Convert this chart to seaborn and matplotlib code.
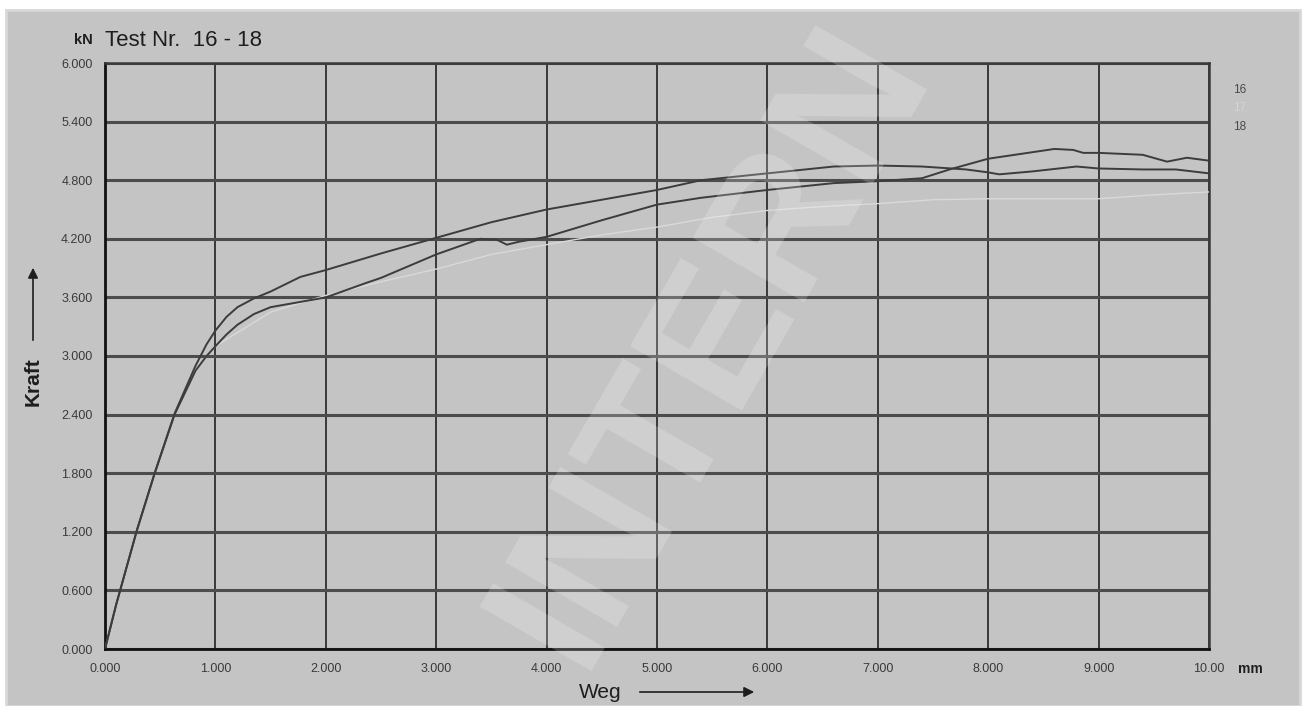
import matplotlib
matplotlib.use("Agg")
import matplotlib.pyplot as plt
import seaborn as sns
import pandas as pd
from matplotlib.patches import Rectangle, FancyArrowPatch

# Test curves: displacement (mm) vs force (kN)
x_16 = [0, 0.1, 0.29, 0.45, 0.63, 0.82, 0.92, 1.0, 1.1, 1.2, 1.35, 1.5, 1.77, 2.0, 2.5, 3.0,
        3.5, 4.0, 4.5, 5.0, 5.4, 6.0, 6.6, 7.0, 7.4, 7.8, 8.0, 8.1, 8.4, 8.8, 9.0, 9.4, 9.7, 10.0]
f_16 = [0, 0.45, 1.22, 1.80, 2.41, 2.90, 3.12, 3.26, 3.40, 3.50, 3.59, 3.66, 3.81, 3.88, 4.05, 4.21,
        4.37, 4.50, 4.60, 4.70, 4.80, 4.87, 4.94, 4.95, 4.94, 4.91, 4.88, 4.86, 4.89, 4.94, 4.92,
        4.91, 4.91, 4.87]

x_17 = [0, 0.1, 0.29, 0.45, 0.63, 0.82, 0.92, 1.0, 1.5, 2.0, 2.5, 3.0, 3.5, 4.0, 4.5, 5.0,
        5.5, 6.0, 6.5, 7.0, 7.5, 8.0, 8.5, 9.0, 9.5, 10.0]
f_17 = [0, 0.45, 1.22, 1.80, 2.41, 2.85, 3.0, 3.10, 3.45, 3.62, 3.76, 3.89, 4.04, 4.14, 4.24, 4.32,
        4.42, 4.49, 4.53, 4.56, 4.60, 4.61, 4.61, 4.61, 4.65, 4.68]

x_18 = [0, 0.1, 0.29, 0.45, 0.63, 0.82, 0.92, 1.0, 1.1, 1.2, 1.35, 1.5, 1.7, 2.0, 2.37, 2.5,
        3.0, 3.4, 3.55, 3.64, 3.75, 4.0, 4.5, 5.0, 5.4, 6.0, 6.6, 7.0, 7.4, 7.65, 8.0, 8.3, 8.6,
        8.77, 8.86, 9.0, 9.4, 9.62, 9.8, 10.0]
f_18 = [0, 0.45, 1.22, 1.80, 2.40, 2.85, 3.00, 3.10, 3.22, 3.32, 3.43, 3.50, 3.54, 3.60, 3.75, 3.80,
        4.04, 4.20, 4.19, 4.14, 4.17, 4.22, 4.39, 4.55, 4.62, 4.70, 4.77, 4.79, 4.82, 4.91, 5.02,
        5.07, 5.12, 5.11, 5.08, 5.08, 5.06, 4.99, 5.03, 5.00]

series_names = ["16", "17", "18"]
x_ticks = [0, 1, 2, 3, 4, 5, 6, 7, 8, 9, 10]
x_tick_labels = ["0.000", "1.000", "2.000", "3.000", "4.000", "5.000",
                 "6.000", "7.000", "8.000", "9.000", "10.00"]
y_ticks = [0, 0.6, 1.2, 1.8, 2.4, 3.0, 3.6, 4.2, 4.8, 5.4, 6.0]
y_tick_labels = ["0.000", "0.600", "1.200", "1.800", "2.400", "3.000",
                 "3.600", "4.200", "4.800", "5.400", "6.000"]

df = pd.concat([
    pd.DataFrame({"Weg": x_16, "Kraft": f_16, "Test": "16"}),
    pd.DataFrame({"Weg": x_17, "Kraft": f_17, "Test": "17"}),
    pd.DataFrame({"Weg": x_18, "Kraft": f_18, "Test": "18"}),
], ignore_index=True)

W, H = 1305, 706
BG = "#c4c4c4"
sns.set_theme(style="white")
plt.rcParams["font.family"] = ["Liberation Sans", "DejaVu Sans"]

fig = plt.figure(figsize=(W / 100, H / 100), dpi=100, facecolor="white")


def fx(px):
    return px / W


def fy(py):
    return 1 - py / H


# grey panel behind everything
fig.patches.append(Rectangle((fx(6), 0), fx(1300) - fx(6), fy(10), transform=fig.transFigure,
                             facecolor=BG, edgecolor="#d8d8d8", linewidth=2, zorder=-10))

ax = fig.add_axes([fx(105), fy(649), fx(1209) - fx(105), fy(63) - fy(649)])
ax.set_facecolor(BG)

palette = {"16": "#3c3c3c", "17": "#d9d9d9", "18": "#3c3c3c"}
# the light curve goes underneath the two dark ones
sns.lineplot(data=df, x="Weg", y="Kraft", hue="Test", hue_order=["17", "16", "18"],
             palette=palette, estimator=None, sort=False, linewidth=1.4, legend=False,
             ax=ax, zorder=3)
ax.lines[0].set_linewidth(1.0)

ax.set_xlim(0, 10)
ax.set_ylim(0, 6)
ax.set_xticks(x_ticks)
ax.set_xticklabels(x_tick_labels)
ax.set_yticks(y_ticks)
ax.set_yticklabels(y_tick_labels)
ax.tick_params(axis="both", length=0, labelsize=9, labelcolor="#3a3a3a")
ax.tick_params(axis="x", pad=10)
ax.tick_params(axis="y", pad=9)
ax.set_xlabel("")
ax.set_ylabel("")

ax.yaxis.grid(True, color="#4c4c4c", linewidth=2.2)
ax.xaxis.grid(True, color="#2e2e2e", linewidth=1.3)
ax.set_axisbelow(True)
for side in ["left", "bottom"]:
    ax.spines[side].set_color("#111111")
    ax.spines[side].set_linewidth(2.0)
for side in ["top", "right"]:
    ax.spines[side].set_color("#3a3a3a")
    ax.spines[side].set_linewidth(1.8)

# titles and unit labels
fig.text(fx(93), fy(40), "kN", fontsize=10.5, fontweight="bold", color="#1e1e1e",
         ha="right", va="center")
fig.text(fx(105), fy(40), "Test Nr.  16 - 18", fontsize=16, color="#1e1e1e", va="center")
fig.text(fx(1238), fy(669), "mm", fontsize=10, fontweight="bold", color="#1e1e1e", va="center")

# axis captions with arrows
fig.text(fx(600), fy(692), "Weg", fontsize=15, color="#1e1e1e", ha="center", va="center")
fig.patches.append(FancyArrowPatch(
    (fx(637), fy(692)), (fx(757), fy(692)), transform=fig.transFigure,
    arrowstyle="-|>,head_length=6,head_width=3", color="#1e1e1e", linewidth=1.2))
fig.text(fx(33), fy(382), "Kraft", fontsize=15, fontweight="bold", color="#1e1e1e",
         rotation=90, ha="center", va="center")
fig.patches.append(FancyArrowPatch(
    (fx(33), fy(343)), (fx(33), fy(265)), transform=fig.transFigure,
    arrowstyle="-|>,head_length=6,head_width=3", color="#1e1e1e", linewidth=1.2))

# series labels on the right
for name, py in zip(series_names, [90, 108, 127]):
    fig.text(fx(1240), fy(py), name, fontsize=8.5,
             color="#d4d4d4" if name == "17" else "#4a4a4a", ha="center", va="center")

# diagonal watermark
fig.text(fx(712), fy(345), "INTERN", fontsize=135, fontweight="bold", color="white",
         alpha=0.2, rotation=60, ha="center", va="center", zorder=10)

fig.savefig("out.png", dpi=100, facecolor="white")
